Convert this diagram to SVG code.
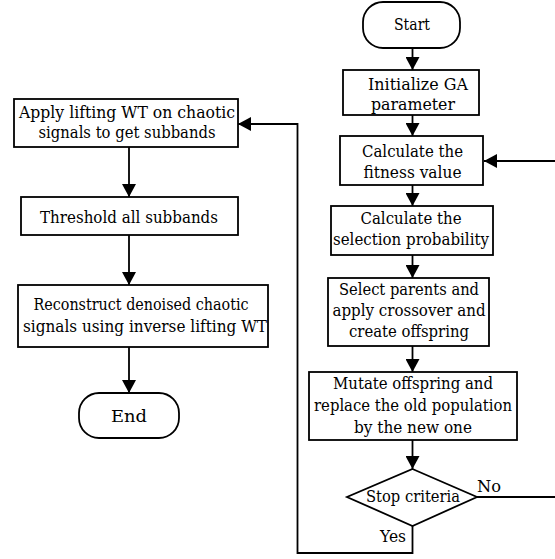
<svg xmlns="http://www.w3.org/2000/svg" width="555" height="559" viewBox="0 0 555 559">
<style>
.box{fill:#fff;stroke:#000;stroke-width:1.8}
text{font-family:'DejaVu Serif','Liberation Serif',serif;font-size:16px;fill:#000}
.t{text-anchor:middle}
.c{fill:none;stroke:#000;stroke-width:1.8}
</style>
<defs>
<marker id="ah" markerUnits="userSpaceOnUse" markerWidth="14" markerHeight="14" refX="13" refY="7" orient="auto">
<path d="M0,0 L13,7 L0,14 z" fill="#000"/>
</marker>
</defs>
<rect width="555" height="559" fill="#fff"/>
<g id="connectors">
<line class="c" x1="412.5" y1="48" x2="412.5" y2="70" marker-end="url(#ah)"/>
<line class="c" x1="412.5" y1="115" x2="412.5" y2="136" marker-end="url(#ah)"/>
<line class="c" x1="412.5" y1="185" x2="412.5" y2="206" marker-end="url(#ah)"/>
<line class="c" x1="412.5" y1="255" x2="412.5" y2="278" marker-end="url(#ah)"/>
<line class="c" x1="412.5" y1="346" x2="412.5" y2="372" marker-end="url(#ah)"/>
<line class="c" x1="412.5" y1="440" x2="412.5" y2="469" marker-end="url(#ah)"/>
<polyline class="c" points="557,497 557,161 484,161" marker-end="url(#ah)"/>
<line class="c" x1="477" y1="497" x2="557" y2="497"/>
<polyline class="c" points="412.5,526 412.5,553 297.5,553 297.5,124 238,124" marker-end="url(#ah)"/>
<line class="c" x1="129" y1="147" x2="129" y2="197" marker-end="url(#ah)"/>
<line class="c" x1="129" y1="235" x2="129" y2="285" marker-end="url(#ah)"/>
<line class="c" x1="129" y1="347" x2="129" y2="393" marker-end="url(#ah)"/>
<text x="477" y="492" textLength="24" lengthAdjust="spacingAndGlyphs">No</text>
<text x="380" y="542" textLength="26" lengthAdjust="spacingAndGlyphs">Yes</text>
</g>
<g id="start">
<rect class="box" x="363" y="2" width="97" height="46" rx="20"/>
<text class="t" x="412" y="30" textLength="36" lengthAdjust="spacingAndGlyphs">Start</text>
</g>
<g id="init">
<rect class="box" x="343" y="70" width="136" height="45"/>
<text class="t" x="418" y="90" textLength="100" lengthAdjust="spacingAndGlyphs">Initialize GA</text>
<text class="t" x="413" y="110" textLength="84" lengthAdjust="spacingAndGlyphs">parameter</text>
</g>
<g id="fitness">
<rect class="box" x="340" y="136" width="143" height="49"/>
<text class="t" x="412.5" y="157" textLength="101" lengthAdjust="spacingAndGlyphs">Calculate the</text>
<text class="t" x="412.5" y="178" textLength="98" lengthAdjust="spacingAndGlyphs">fitness value</text>
</g>
<g id="selection">
<rect class="box" x="331" y="206" width="162" height="49"/>
<text class="t" x="411" y="224" textLength="101" lengthAdjust="spacingAndGlyphs">Calculate the</text>
<text class="t" x="411" y="245" textLength="156" lengthAdjust="spacingAndGlyphs">selection probability</text>
</g>
<g id="crossover">
<rect class="box" x="328" y="278" width="161" height="68"/>
<text class="t" x="409" y="295" textLength="140" lengthAdjust="spacingAndGlyphs">Select parents and</text>
<text class="t" x="409" y="316" textLength="153" lengthAdjust="spacingAndGlyphs">apply crossover and</text>
<text class="t" x="409" y="337" textLength="120" lengthAdjust="spacingAndGlyphs">create offspring</text>
</g>
<g id="mutate">
<rect class="box" x="309" y="372" width="208" height="68"/>
<text class="t" x="413" y="389" textLength="160" lengthAdjust="spacingAndGlyphs">Mutate offspring and</text>
<text class="t" x="413" y="411" textLength="198" lengthAdjust="spacingAndGlyphs">replace the old population</text>
<text class="t" x="413" y="433" textLength="118" lengthAdjust="spacingAndGlyphs">by the new one</text>
</g>
<g id="stop">
<polygon class="box" points="412.5,469 477,497 412.5,526 347,497"/>
<text class="t" x="413" y="502" textLength="94" lengthAdjust="spacingAndGlyphs">Stop criteria</text>
</g>
<g id="lifting">
<rect class="box" x="14" y="99" width="224" height="48"/>
<text class="t" x="127" y="118" textLength="216" lengthAdjust="spacingAndGlyphs">Apply lifting WT on chaotic</text>
<text class="t" x="127" y="138" textLength="177" lengthAdjust="spacingAndGlyphs">signals to get subbands</text>
</g>
<g id="threshold">
<rect class="box" x="21" y="197" width="217" height="38"/>
<text class="t" x="129" y="223" textLength="178" lengthAdjust="spacingAndGlyphs">Threshold all subbands</text>
</g>
<g id="reconstruct">
<rect class="box" x="18" y="285" width="250" height="62"/>
<text class="t" x="141" y="310" textLength="215" lengthAdjust="spacingAndGlyphs">Reconstruct denoised chaotic</text>
<text class="t" x="145" y="332" textLength="244" lengthAdjust="spacingAndGlyphs">signals using inverse lifting WT</text>
</g>
<g id="end">
<rect class="box" x="79" y="393" width="100" height="45" rx="20"/>
<text class="t" x="129" y="422" textLength="36" lengthAdjust="spacingAndGlyphs">End</text>
</g>
</svg>
